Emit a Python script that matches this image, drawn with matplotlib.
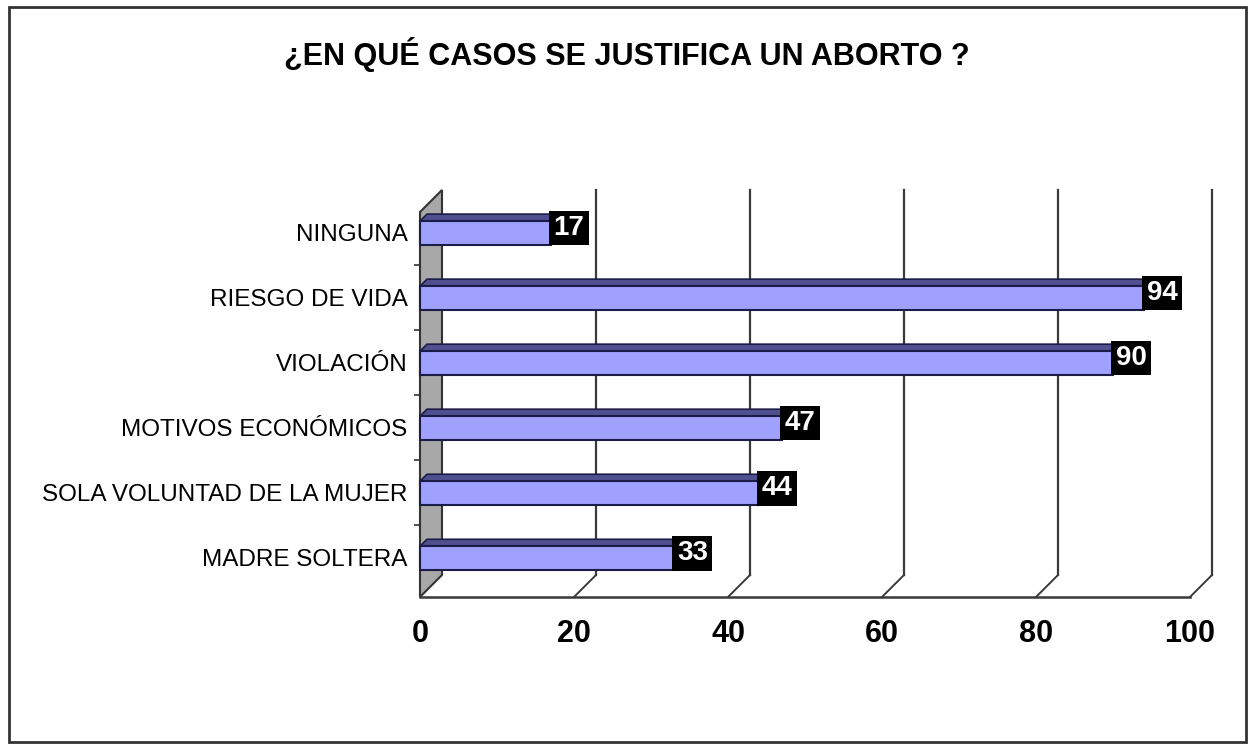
import matplotlib
matplotlib.use("Agg")
import matplotlib.pyplot as plt
from matplotlib.patches import Rectangle, Polygon
from matplotlib.transforms import offset_copy
from matplotlib import font_manager

# ---- data ----
categories = ["MADRE SOLTERA", "SOLA VOLUNTAD DE LA MUJER", "MOTIVOS ECONÓMICOS",
              "VIOLACIÓN", "RIESGO DE VIDA", "NINGUNA"]
values = [33, 44, 47, 90, 94, 17]
xticks = [0, 20, 40, 60, 80, 100]
title = "¿EN QUÉ CASOS SE JUSTIFICA UN ABORTO ?"

names = {f.name for f in font_manager.fontManager.ttflist}
SANS = "Liberation Sans" if "Liberation Sans" in names else "DejaVu Sans"

W, H = 1253, 744
fig = plt.figure(figsize=(W / 100, H / 100), dpi=100)
fig.patch.set_facecolor("white")

# figure border
fig.add_artist(Rectangle((9 / W, 2 / H), 1237 / W, 735 / H, transform=fig.transFigure,
                         fill=False, edgecolor="#333333", linewidth=2))

ax = fig.add_axes([420 / W, 147 / H, 770 / W, 385 / H])
ylo, yhi = -0.6, 5.32
ax.set_xlim(0, 100)
ax.set_ylim(ylo, yhi)
for s in ax.spines.values():
    s.set_visible(False)
ax.patch.set_alpha(0)

DEPTH = 22  # pixels


def shifted(x, y, px, py):
    tr = offset_copy(ax.transData, fig=fig, x=px, y=py, units="dots")
    return tuple(ax.transData.inverted().transform(tr.transform((x, y))))


grid_c = "#3a3a3a"
# left wall
wall = Polygon([(0, ylo), (0, yhi), shifted(0, yhi, DEPTH, DEPTH), shifted(0, ylo, DEPTH, DEPTH)],
               closed=True, facecolor="#a8a8a8", edgecolor="#333333", linewidth=1.5, clip_on=False,
               zorder=1)
ax.add_patch(wall)

# back-wall gridlines + floor diagonals
for v in xticks[1:]:
    bx0, by0 = shifted(v, ylo, DEPTH, DEPTH)
    bx1, by1 = shifted(v, yhi, DEPTH, DEPTH)
    ax.plot([bx0, bx1], [by0, by1], color=grid_c, lw=1.6, clip_on=False, zorder=1)
    ax.plot([v, bx0], [ylo, by0], color=grid_c, lw=1.4, clip_on=False, zorder=1)
# front floor line
ax.plot([0, 100], [ylo, ylo], color=grid_c, lw=1.8, clip_on=False, zorder=1)

# bars
h = 0.36
TOP = 7
for i, v in enumerate(values):
    yt = i + h / 2
    top = Polygon([(0, yt), (v, yt), shifted(v, yt, TOP, TOP), shifted(0, yt, TOP, TOP)],
                  closed=True, facecolor="#50508f", edgecolor="#1c1c48", linewidth=1.2,
                  clip_on=False, zorder=3)
    ax.add_patch(top)
    ax.add_patch(Rectangle((0, i - h / 2), v, h, facecolor="#a0a0ff", edgecolor="#1c1c48",
                           linewidth=1.5, clip_on=False, zorder=4))
    ax.annotate(str(v), xy=(v, i), xytext=(2.0, 3.5), textcoords="offset points",
                ha="left", va="center", color="white", fontsize=20, fontweight="bold",
                family=SANS, zorder=6,
                bbox=dict(boxstyle="square,pad=0.16", facecolor="black", edgecolor="none"))

# axes ticks
ax.set_xticks(xticks)
ax.set_xticklabels([str(t) for t in xticks], fontsize=22, fontweight="bold", family=SANS)
ax.tick_params(axis="x", length=0, pad=16)
ax.set_yticks(range(len(categories)))
ax.set_yticklabels(categories, fontsize=17.5, family=SANS)
ax.tick_params(axis="y", length=0, pad=9)
for lbl in ax.get_yticklabels():
    lbl.set_y(lbl.get_position()[1])
ax.set_yticks([i + 0.5 for i in range(len(categories) - 1)], minor=True)
ax.tick_params(axis="y", which="minor", length=4, width=1.2, color="#333333", direction="out")

fig.text(0.5, 1 - 54 / H, title, ha="center", va="center", fontsize=22, fontweight="bold",
         family=SANS)

fig.savefig("out.png", dpi=100, facecolor="white")
